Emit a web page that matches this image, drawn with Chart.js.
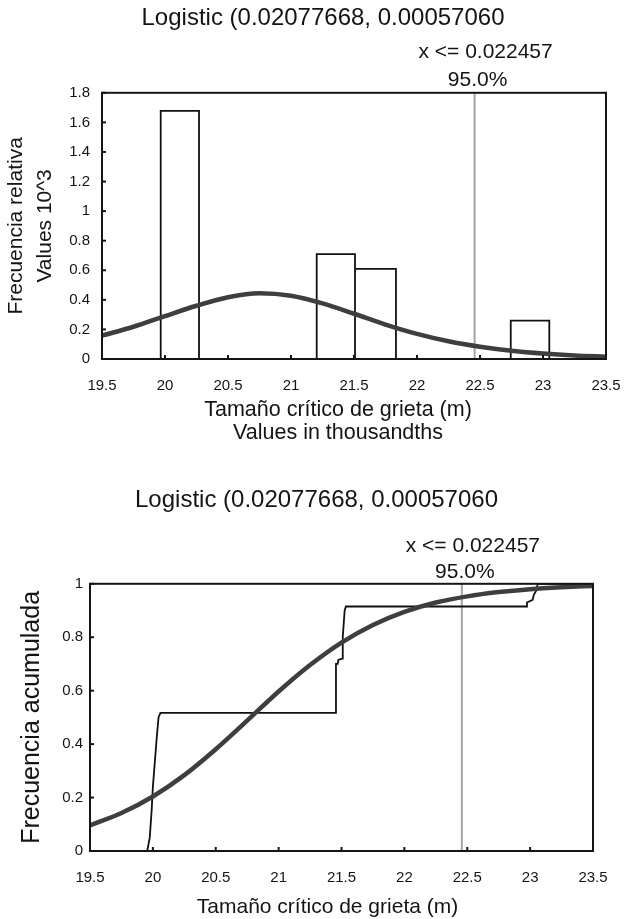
<!DOCTYPE html>
<html><head><meta charset="utf-8">
<script src="https://cdn.jsdelivr.net/npm/chart.js@4.4.1/dist/chart.umd.min.js"></script>
<style>
html,body{margin:0;padding:0;background:#fff;}
body{width:626px;height:919px;overflow:hidden;position:relative;}
.box{position:absolute;left:0;width:626px;}
#b1{top:0;height:460px;}
#b2{top:460px;height:459px;}
</style></head><body>
<div class="box" id="b1"><canvas id="c1"></canvas></div>
<div class="box" id="b2"><canvas id="c2"></canvas></div>
<script>
// ---- data (x values in thousandths) ----
const titleText = 'Logistic (0.02077668, 0.00057060';
const markerX = 22.457;
const markerLabels = ['x <= 0.022457', '95.0%'];
const xTicks = [19.5, 20, 20.5, 21, 21.5, 22, 22.5, 23, 23.5];
const yTicksDensity = [0, 0.2, 0.4, 0.6, 0.8, 1, 1.2, 1.4, 1.6, 1.8];
const yTicksCum = [0, 0.2, 0.4, 0.6, 0.8, 1];

// histogram bins (relative frequency, values 10^3)
const binLeft   = [19.966, 21.204, 21.508, 22.744];
const binRight  = [20.270, 21.508, 21.833, 23.050];
const binHeight = [1.678, 0.709, 0.610, 0.260];

// fitted density curve
const curveX = [19.5, 19.75, 20, 20.25, 20.5, 20.75, 21, 21.25, 21.5, 21.75, 22, 22.25, 22.5, 22.75, 23, 23.25, 23.5];
const densityY = [0.158, 0.218, 0.29, 0.36, 0.418, 0.445, 0.428, 0.376, 0.306, 0.233, 0.17, 0.12, 0.083, 0.056, 0.037, 0.024, 0.016];
// fitted cumulative curve
const cumY = [0.096, 0.142, 0.204, 0.284, 0.381, 0.488, 0.597, 0.696, 0.780, 0.846, 0.895, 0.930, 0.953, 0.969, 0.980, 0.987, 0.992];

// empirical cumulative frequency
const ecdfX = [19.955, 19.975, 19.99, 20.0, 20.01, 20.03, 20.045, 20.06, 21.455, 21.456, 21.47, 21.475, 21.505, 21.51, 21.525, 21.535, 22.97, 22.975, 23.02, 23.03, 23.05, 23.06, 23.5];
const ecdfY = [0, 0.05, 0.15, 0.24, 0.3, 0.42, 0.5, 0.517, 0.517, 0.70, 0.70, 0.715, 0.72, 0.80, 0.90, 0.915, 0.915, 0.93, 0.94, 0.96, 0.975, 1.0, 1.0];

// ---- helpers ----
const FONT = '"Liberation Sans", Arial, Helvetica, sans-serif';
const TXT = '#141414';
Chart.defaults.font.family = FONT;
Chart.defaults.color = TXT;

function histOutline() {
  const pts = [];
  for (let i = 0; i < binLeft.length; i++) {
    pts.push({x: binLeft[i], y: 0}, {x: binLeft[i], y: binHeight[i]},
             {x: binRight[i], y: binHeight[i]}, {x: binRight[i], y: 0});
    const adjacent = i + 1 < binLeft.length && Math.abs(binLeft[i + 1] - binRight[i]) < 1e-6;
    if (!adjacent) pts.push({x: binRight[i], y: null});
  }
  return pts;
}
const zip = (xs, ys) => xs.map((x, i) => ({x, y: ys[i]}));

const framePlugin = {
  id: 'frame',
  afterLayout(chart, args, opts) {
    // horizontal offsets of the chart title and x-axis title, as in the original figure
    if (chart.titleBlock) { chart.titleBlock.left += opts.titleShift; chart.titleBlock.right += opts.titleShift; }
    const sx = chart.scales.x;
    if (sx && !sx._shiftPatched) {
      const orig = sx.drawTitle;
      sx.drawTitle = function () {
        this.ctx.save(); this.ctx.translate(opts.xTitleShift, 0); orig.call(this); this.ctx.restore();
      };
      sx._shiftPatched = true;
    }
  },
  afterDatasetsDraw(chart) {
    const {ctx, chartArea: a, scales: {x, y}} = chart;
    ctx.save();
    ctx.strokeStyle = '#151515';
    ctx.lineWidth = 2;
    ctx.strokeRect(a.left, a.top, a.right - a.left, a.bottom - a.top);
    x.ticks.forEach(t => {
      const px = x.getPixelForValue(t.value);
      ctx.beginPath(); ctx.moveTo(px, a.bottom); ctx.lineTo(px, a.bottom - 4); ctx.stroke();
    });
    y.ticks.forEach(t => {
      const py = y.getPixelForValue(t.value);
      ctx.beginPath(); ctx.moveTo(a.left, py); ctx.lineTo(a.left + 4, py); ctx.stroke();
    });
    ctx.restore();
  },
  afterDraw(chart, args, opts) {
    const {ctx, chartArea: a, scales: {x}} = chart;
    const px = x.getPixelForValue(markerX);
    ctx.save();
    ctx.font = '21px ' + FONT;
    ctx.fillStyle = TXT;
    ctx.textAlign = 'center';
    ctx.textBaseline = 'middle';
    ctx.fillText(markerLabels[0], px + 11, a.top - opts.d0);
    ctx.fillText(markerLabels[1], px + 3, a.top - opts.d1);
    ctx.restore();
  }
};

function makeChart(id, cfg) {
  return new Chart(document.getElementById(id), {
    type: 'line',
    data: {datasets: cfg.datasets},
    options: {
      responsive: true, maintainAspectRatio: false, animation: false,
      devicePixelRatio: 1,
      layout: {padding: {left: 0, right: cfg.padRight, top: 0, bottom: 0}},
      elements: {point: {radius: 0}},
      plugins: {
        legend: {display: false}, tooltip: {enabled: false},
        title: {display: true, text: titleText, color: TXT,
          font: {family: FONT, size: 24, weight: 'normal', lineHeight: 1.2},
          padding: cfg.titlePad},
        frame: cfg.marker
      },
      scales: {
        x: {
          type: 'linear', min: 19.5, max: 23.5,
          afterBuildTicks: s => { s.ticks = xTicks.map(v => ({value: v})); },
          afterFit: s => { s.height = cfg.xHeight; },
          grid: {display: false, drawTicks: true, tickLength: 15},
          border: {display: false},
          ticks: {callback: v => String(v), font: {size: 15}, color: TXT, padding: 3, maxRotation: 0, autoSkip: false},
          title: {display: true, text: cfg.xTitle, color: TXT,
            font: {size: cfg.xTitleSize, lineHeight: cfg.xTitleLH}, padding: {top: 0, bottom: cfg.xTitlePadB}}
        },
        y: {
          type: 'linear', min: 0, max: cfg.yMax,
          afterBuildTicks: s => { s.ticks = cfg.yTicks.map(v => ({value: v})); },
          afterFit: s => { s.width = cfg.yWidth; },
          grid: {display: false, drawTicks: true, tickLength: 4},
          border: {display: false},
          ticks: {callback: v => String(v), font: {size: 15}, color: TXT, padding: cfg.yTickPad, autoSkip: false},
          title: {display: true, text: cfg.yTitle, color: TXT,
            font: {size: cfg.yTitleSize, lineHeight: cfg.yTitleLH}, padding: {top: cfg.yTitlePadT, bottom: 0}}
        }
      }
    },
    plugins: [framePlugin]
  });
}

// ---- top chart: relative frequency ----
makeChart('c1', {
  datasets: [
    {data: zip(curveX, densityY), borderColor: '#3e3e3e', borderWidth: 4.5, cubicInterpolationMode: 'monotone', fill: false},
    {data: [{x: markerX, y: 0}, {x: markerX, y: 1.8}], borderColor: '#a4a4a4', borderWidth: 2, fill: false},
    {data: histOutline(), borderColor: '#111', borderWidth: 1.8, spanGaps: false, fill: false, tension: 0}
  ],
  padRight: 20,
  titlePad: {top: 4, bottom: 60},
  marker: {d0: 41, d1: 13, titleShift: 20, xTitleShift: -16},
  xHeight: 101, xTitle: ['Tamaño crítico de grieta (m)', 'Values in thousandths'], xTitleSize: 21.5, xTitleLH: 1.07, xTitlePadB: 15,
  yMax: 1.8, yTicks: yTicksDensity, yWidth: 102, yTickPad: 8,
  yTitle: ['Frecuencia relativa', 'Values 10^3'], yTitleSize: 21, yTitleLH: 1.38, yTitlePadT: 2
});

// ---- bottom chart: cumulative frequency ----
makeChart('c2', {
  datasets: [
    {data: zip(curveX, cumY), borderColor: '#3e3e3e', borderWidth: 4.5, cubicInterpolationMode: 'monotone', fill: false},
    {data: zip(ecdfX, ecdfY), borderColor: '#111', borderWidth: 1.8, fill: false, tension: 0},
    {data: [{x: markerX, y: 0}, {x: markerX, y: 1}], borderColor: '#a4a4a4', borderWidth: 2, fill: false}
  ],
  padRight: 33,
  titlePad: {top: 26, bottom: 69},
  marker: {d0: 38, d1: 12, titleShift: 20, xTitleShift: -14},
  xHeight: 68, xTitle: 'Tamaño crítico de grieta (m)', xTitleSize: 21, xTitleLH: 1.15, xTitlePadB: 0,
  yMax: 1, yTicks: yTicksCum, yWidth: 90, yTickPad: 3,
  yTitle: 'Frecuencia acumulada', yTitleSize: 25, yTitleLH: 1.2, yTitlePadT: 17
});
</script>
</body></html>
